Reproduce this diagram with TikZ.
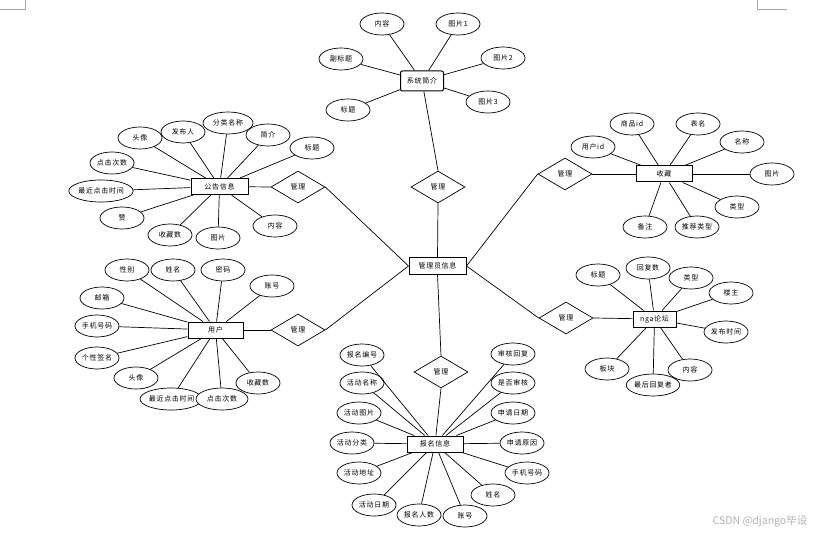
\documentclass[tikz,border=0pt]{standalone}
\usepackage{fontspec}
\setmainfont{Noto Sans CJK SC}[LetterSpace=10]
\newfontfamily\wmfont{Noto Sans CJK SC}
\usetikzlibrary{shapes.geometric}
\tikzset{
  attr/.style={ellipse, draw, fill=white, line width=0.7pt, minimum width=44pt, minimum height=22pt, inner sep=0pt, font=\fontsize{7}{8}\selectfont},
  ent/.style={rectangle, draw, fill=white, line width=1pt, minimum width=56pt, minimum height=16pt, inner sep=1pt, font=\fontsize{7}{8}\selectfont},
  rel/.style={diamond, draw, fill=white, line width=0.7pt, minimum width=54pt, minimum height=32pt, inner sep=0pt, font=\fontsize{7}{8}\selectfont},
  lbl/.style={font=\fontsize{7}{8}\selectfont, inner sep=0pt},
  conn/.style={line width=0.7pt},
  crop/.style={draw=black!35, line width=0.8pt}
}
\begin{document}
\begin{tikzpicture}[x=1pt,y=-1pt]
\useasboundingbox (0,0) rectangle (840,537);
% crop marks
\coordinate (c1) at (25,0); \coordinate (c2) at (25,9); \coordinate (c3) at (0,9);
\draw[crop] (c1) -- (c2) -- (c3);
\coordinate (c4) at (757,0); \coordinate (c5) at (757,9); \coordinate (c6) at (787,9);
\draw[crop] (c4) -- (c5) -- (c6);

% central entity and relationships
\node[ent, minimum width=57pt] (admin) at (437.5,266) {管理员信息};
\node[rel] (rTop) at (438,187) {管理};
\node[rel] (rUL) at (298,187) {管理};
\node[rel] (rLL) at (298,330) {管理};
\node[rel] (rUR) at (565,174) {管理};
\node[rel] (rLR) at (566,318) {管理};
\node[rel] (rBot) at (441,372) {管理};

% 系统简介
\node[ent, rounded corners=2pt, minimum width=43pt, minimum height=20pt] (sys) at (422,81) {系统简介};
\node[attr] (s1) at (382,24) {内容};
\node[attr] (s2) at (458,24) {图片1};
\node[attr] (s3) at (341,59) {副标题};
\node[attr] (s4) at (503,58) {图片2};
\node[attr] (s5) at (488,102) {图片3};
\node[attr] (s6) at (348,110) {标题};
\foreach \n in {s1,s2,s3,s4,s5,s6} \draw[conn] (\n) -- (sys);

% 公告信息
\node[ent, minimum width=57pt] (gg) at (219.5,186.5) {公告信息};
\node[attr] (g1) at (140,138) {头像};
\node[attr] (g2) at (183,132) {发布人};
\node[attr, minimum width=50pt] (g3) at (228,123) {分类名称};
\node[attr] (g4) at (268,135) {简介};
\node[attr] (g5) at (312,148) {标题};
\node[attr] (g6) at (112,163) {点击次数};
\node[attr] (g7) at (101,191) {最近点击时间};
\node[attr] (g8) at (122,218) {赞};
\node[attr] (g9) at (170,235) {收藏数};
\node[attr] (g10) at (218,238) {图片};
\node[attr] (g11) at (275,226) {内容};
\foreach \n in {g1,g2,g3,g4,g5,g6,g7,g8,g9,g10,g11} \draw[conn] (\n) -- (gg);

% 收藏
\node[ent] (sc) at (664,174) {收藏};
\node[attr] (c11) at (632,124) {商品id};
\node[attr] (c12) at (698,124) {表名};
\node[attr] (c13) at (593,147) {用户id};
\node[attr] (c14) at (742,142) {名称};
\node[attr] (c15) at (772,174) {图片};
\node[attr] (c16) at (737,207) {类型};
\node[attr] (c17) at (645,227) {备注};
\node[attr] (c18) at (697,227) {推荐类型};
\foreach \n in {c11,c12,c13,c14,c15,c16,c17,c18} \draw[conn] (\n) -- (sc);

% 用户
\node[ent, minimum width=55pt] (yh) at (215.5,330) {用户};
\node[attr] (u1) at (127,270) {性别};
\node[attr] (u2) at (173,270) {姓名};
\node[attr] (u3) at (223,270) {密码};
\node[attr] (u4) at (272,286) {账号};
\node[attr] (u5) at (102,298) {邮箱};
\node[attr] (u6) at (97,326) {手机号码};
\node[attr] (u7) at (97,358) {个性签名};
\node[attr] (u8) at (136,378) {头像};
\node[attr, minimum width=62pt] (u9) at (171,399) {};
\node[lbl, anchor=west] (u9t) at ([xshift=9pt]u9.west) {最近点击时间};
\node[attr, minimum width=52pt] (u10) at (222,399) {点击次数};
\node[attr] (u11) at (258,383) {收藏数};
\foreach \n in {u1,u2,u3,u4,u5,u6,u7,u8,u9,u10,u11} \draw[conn] (\n) -- (yh);

% nga论坛
\node[ent, minimum width=43pt] (nga) at (654.5,319) {nga论坛};
\node[attr] (n1) at (598,275) {标题};
\node[attr] (n2) at (648,268) {回复数};
\node[attr] (n3) at (691,278) {类型};
\node[attr] (n4) at (731,293) {楼主};
\node[attr] (n5) at (726,332) {发布时间};
\node[attr] (n6) at (607,369) {板块};
\node[attr] (n8) at (690,370) {内容};
\node[attr] (n7) at (653,385) {最后回复者};
\foreach \n in {n1,n2,n3,n4,n5,n6,n7,n8} \draw[conn] (\n) -- (nga);

% 报名信息
\node[ent] (bm) at (435,444) {报名信息};
\node[attr] (b1) at (362,355) {报名编号};
\node[attr] (b2) at (362,383) {活动名称};
\node[attr] (b3) at (359,413) {活动图片};
\node[attr] (b4) at (352,443) {活动分类};
\node[attr] (b5) at (359,473) {活动地址};
\node[attr] (b6) at (374,505) {活动日期};
\node[attr] (b7) at (419,515) {报名人数};
\node[attr] (b8) at (465,516) {账号};
\node[attr] (b9) at (493,495) {姓名};
\node[attr] (b10) at (513,354) {审核回复};
\node[attr] (b11) at (513,383) {是否审核};
\node[attr] (b12) at (513,413) {申请日期};
\node[attr] (b13) at (522,443) {申请原因};
\node[attr] (b14) at (527,473) {手机号码};
\foreach \n in {b1,b2,b3,b4,b5,b6,b7,b8,b9,b10,b11,b12,b13,b14} \draw[conn] (\n) -- (bm);

% relationship links
\draw[conn] (sys) -- (rTop.north);
\draw[conn] (rTop.south) -- (admin.north);
\draw[conn] (gg) -- (rUL.west);
\draw[conn] (rUL.east) -- (admin.west);
\draw[conn] (yh) -- (rLL.west);
\draw[conn] (rLL.east) -- (admin.west);
\draw[conn] (rUR.east) -- (sc);
\draw[conn] (rUR.west) -- (admin.east);
\draw[conn] (rLR.east) -- (nga);
\draw[conn] (rLR.west) -- (admin.east);
\draw[conn] (rBot.north) -- (admin.south);
\draw[conn] (rBot.south) -- (bm);

% watermark
\node[font=\wmfont\fontsize{10.5}{12}\selectfont, text=black!30, inner sep=0pt] (wm) at (760,521) {CSDN @django毕设};
\end{tikzpicture}
\end{document}
